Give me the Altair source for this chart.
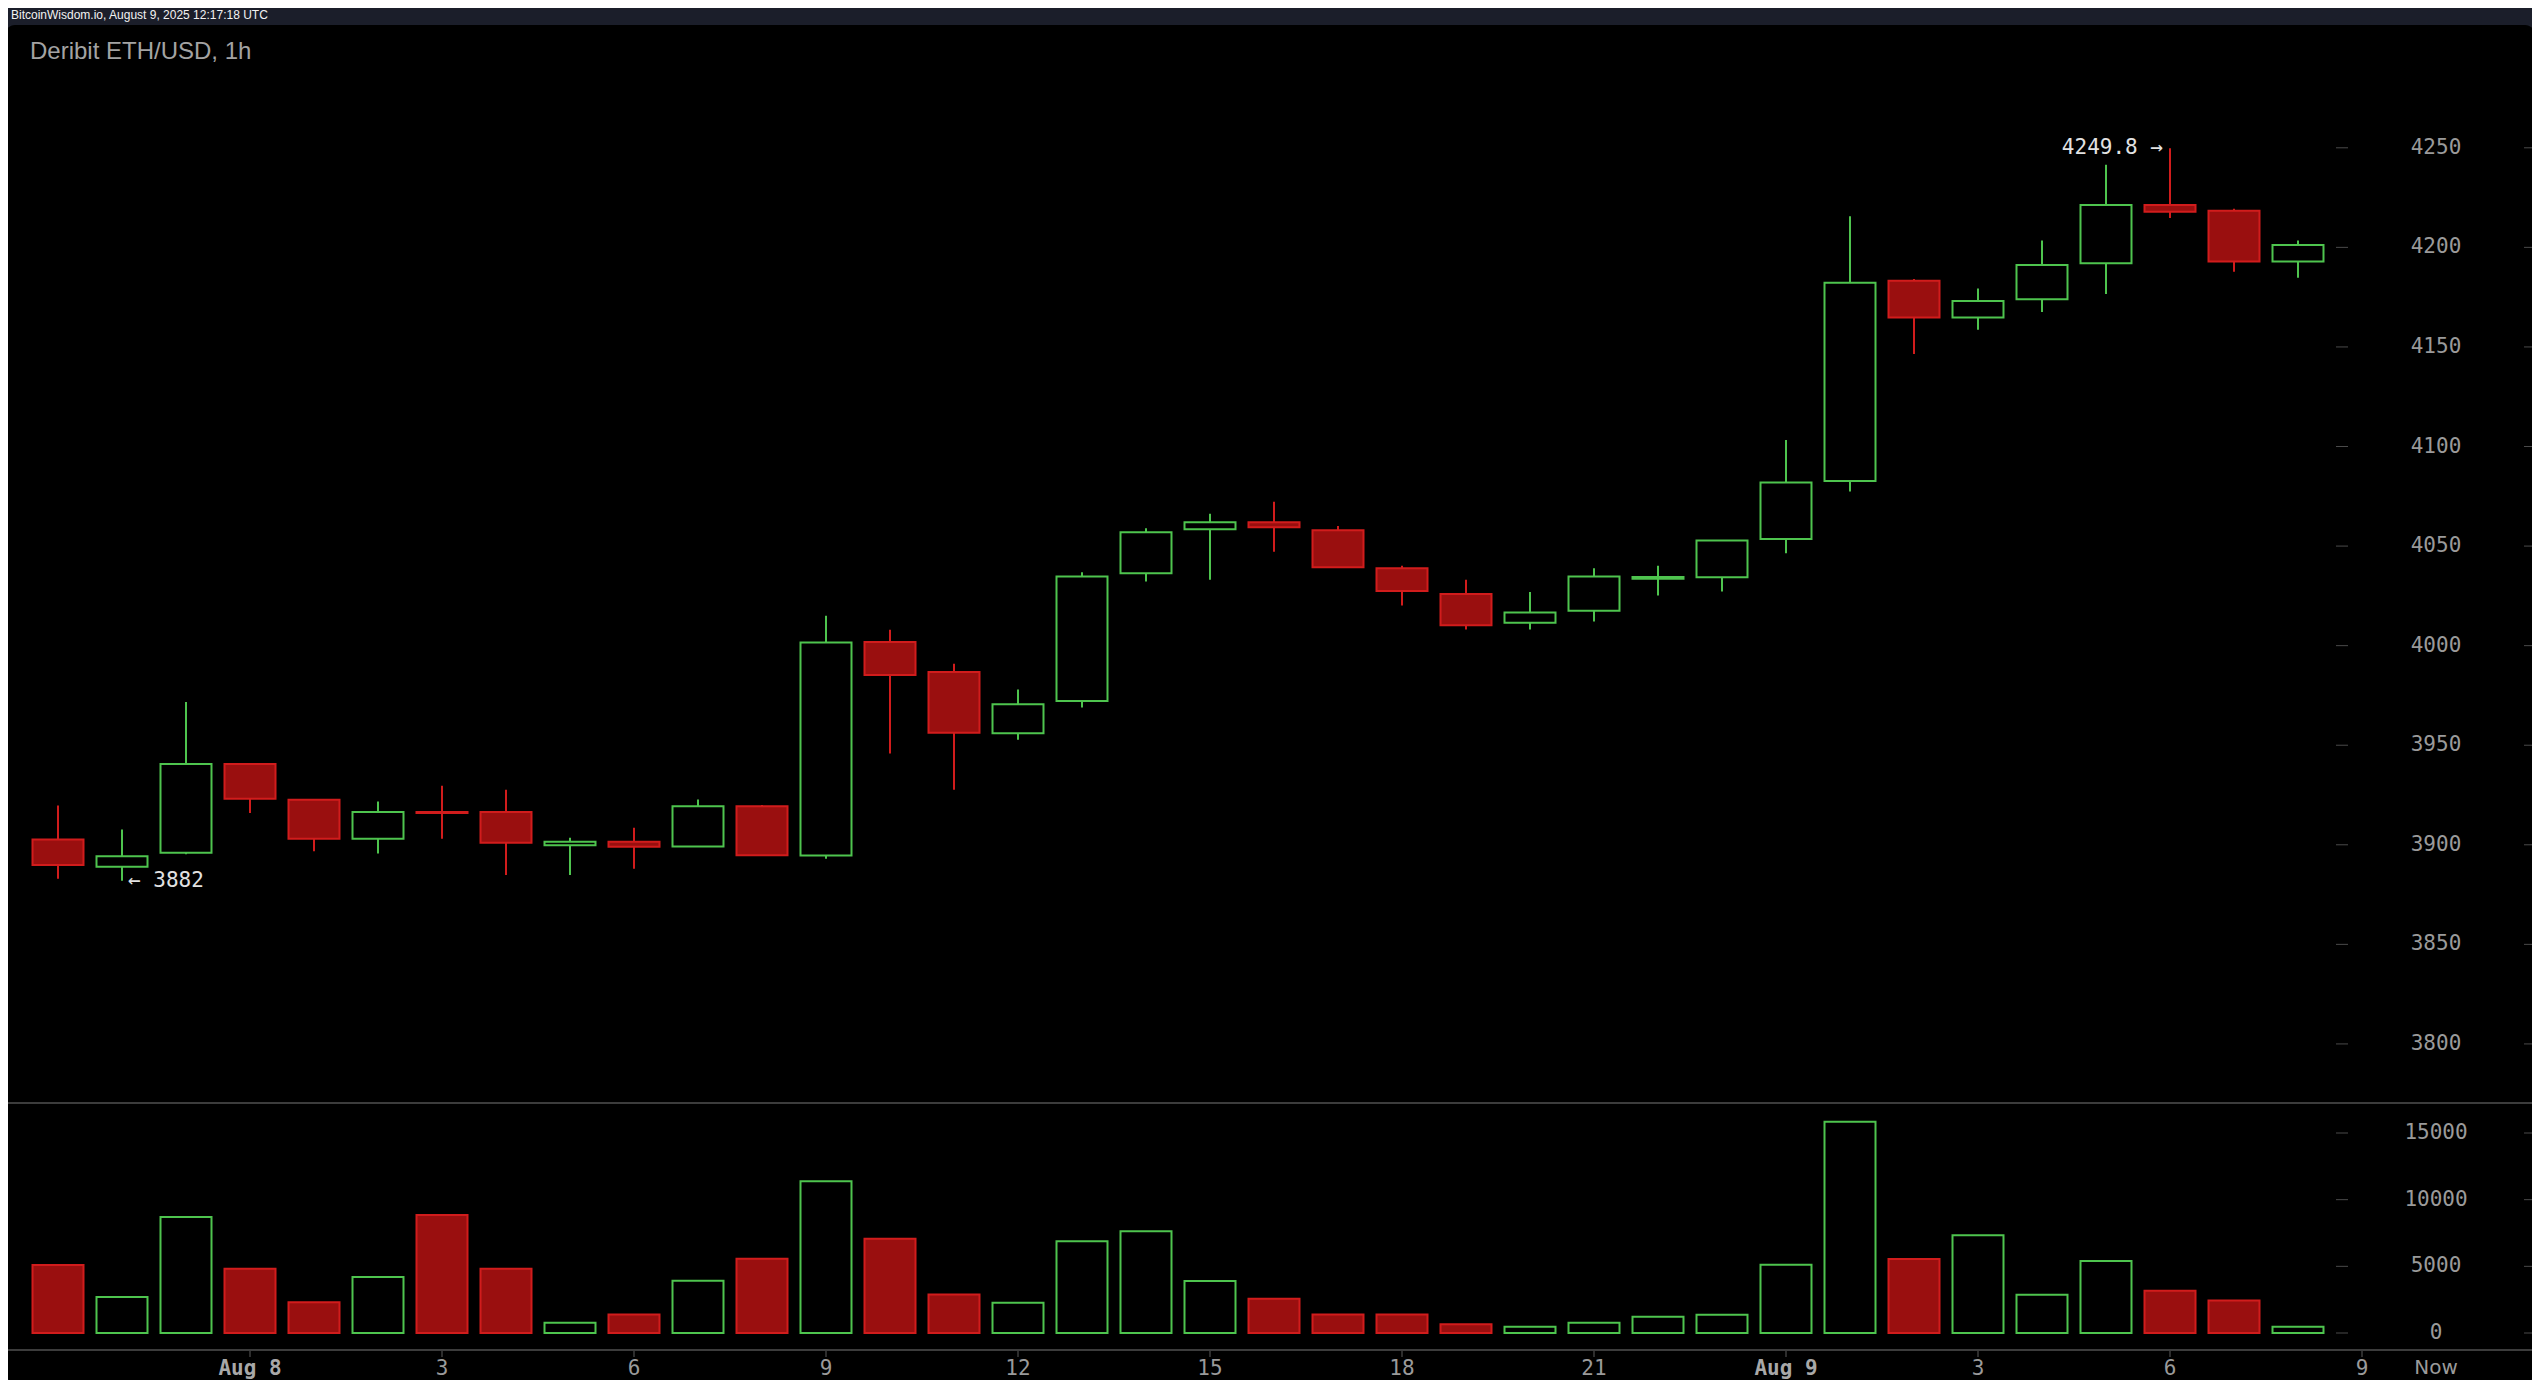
import altair as alt
import pandas as pd

# ---------------- data ----------------
candle_index = list(range(36))
opens = [3902.7, 3889.0, 3896.0, 3940.6, 3922.6, 3903.0, 3916.5, 3916.5, 3899.8, 3901.5,
         3899.2, 3919.4, 3894.6, 4001.8, 3986.8, 3956.0, 3972.2, 4036.4, 4058.5, 4062.0,
         4058.0, 4038.9, 4025.9, 4011.5, 4017.5, 4033.6, 4034.4, 4053.6, 4082.7, 4183.3,
         4164.8, 4174.0, 4192.0, 4221.3, 4218.4, 4192.9]
highs = [3919.7, 3907.7, 3971.7, 3941.0, 3923.0, 3921.7, 3929.7, 3927.7, 3903.5, 3908.5,
         3922.7, 3920.0, 4015.0, 4008.0, 3990.9, 3978.0, 4036.9, 4059.0, 4066.2, 4072.2,
         4060.1, 4040.1, 4033.1, 4026.9, 4038.9, 4040.1, 4052.8, 4103.3, 4215.6, 4184.1,
         4179.3, 4203.4, 4241.5, 4249.8, 4219.4, 4203.4]
lows = [3883.0, 3882.0, 3895.2, 3916.0, 3896.8, 3895.6, 3903.0, 3884.8, 3884.8, 3888.0,
        3899.0, 3894.5, 3893.0, 3945.8, 3927.7, 3952.7, 3969.0, 4032.2, 4033.1, 4047.2,
        4039.0, 4020.2, 4008.1, 4008.1, 4012.1, 4025.2, 4027.2, 4046.4, 4077.4, 4146.4,
        4158.6, 4167.6, 4176.6, 4214.7, 4187.7, 4184.7]
closes = [3889.8, 3894.3, 3940.6, 3923.1, 3903.0, 3916.5, 3916.0, 3901.0, 3901.5, 3899.0,
          3919.4, 3894.8, 4001.6, 3985.3, 3956.2, 3970.6, 4034.7, 4057.0, 4062.0, 4059.5,
          4039.4, 4027.4, 4010.3, 4016.7, 4034.7, 4034.5, 4052.8, 4081.9, 4182.2, 4164.8,
          4173.1, 4191.2, 4221.3, 4217.9, 4192.9, 4201.2]
volumes = [5100, 2700, 8700, 4820, 2300, 4200, 8850, 4820, 770, 1380,
           3920, 5570, 11390, 7060, 2880, 2260, 6890, 7630, 3900, 2560,
           1390, 1390, 650, 470, 770, 1220, 1370, 5120, 15840, 5550,
           7340, 2860, 5400, 3160, 2440, 470]

price_ticks = [3800, 3850, 3900, 3950, 4000, 4050, 4100, 4150, 4200, 4250]
volume_ticks = [0, 5000, 10000, 15000]
time_tick_pos = [3, 6, 9, 12, 15, 18, 21, 24, 27, 30, 33, 36]
time_tick_labels = ["Aug 8", "3", "6", "9", "12", "15", "18", "21", "Aug 9", "3", "6", "9"]
time_tick_bold = [True, False, False, False, False, False, False, False, True, False, False, False]

low_note = {"i": 1, "p": 3882, "t": "\u2190 3882"}
high_note = {"i": 33, "p": 4249.8, "t": "4249.8 \u2192"}

title_text = "Deribit ETH/USD, 1h"
header_text = "BitcoinWisdom.io, August 9, 2025 12:17:18 UTC"

# ---------------- tables ----------------
df = pd.DataFrame({"i": candle_index, "open": opens, "high": highs, "low": lows,
                   "close": closes, "volume": volumes})
df["dir"] = ["up" if c >= o else "down" for o, c in zip(opens, closes)]
df["top"] = [max(o, c) for o, c in zip(opens, closes)]
df["bot"] = [min(o, c) for o, c in zip(opens, closes)]

ptick_df = pd.DataFrame({"p": price_ticks, "lab": [str(v) for v in price_ticks]})
vtick_df = pd.DataFrame({"v": volume_ticks, "lab": [str(v) for v in volume_ticks]})
ttick_df = pd.DataFrame({"i": time_tick_pos, "lab": time_tick_labels, "bold": time_tick_bold})
one = pd.DataFrame({"k": [0]})

# ---------------- geometry / style ----------------
W, H = 2524, 1372
STEP = 64.0
X0 = 50.0
x_scale = alt.Scale(domain=[-X0 / STEP, (W - X0) / STEP], nice=False, zero=False)
PPX = 200 / 15000.0  # volume px per unit
price_scale = alt.Scale(domain=[4250 - (H - 139.8) / 1.9914, 4250 + 139.8 / 1.9914], nice=False, zero=False)
vol_scale = alt.Scale(domain=[-(H - 1325) / PPX, 1325 / PPX], nice=False, zero=False)

GREEN = "#4ec44e"
RED_STROKE = "#d11c1c"
RED_FILL = "#9a0f0f"
BG = "#1b1e2a"
MONO = "DejaVu Sans Mono"
HALF = 25.5 / STEP

stroke_scale = alt.Scale(domain=["up", "down"], range=[GREEN, RED_STROKE])
fill_scale = alt.Scale(domain=["up", "down"], range=["#000000", RED_FILL])

X = alt.X("i:Q", scale=x_scale, axis=None)

panel = alt.Chart(one).mark_rect(color="#000000", cornerRadius=10).encode(
    x=alt.value(-3), x2=alt.value(2527), y=alt.value(17), y2=alt.value(1374))

header = alt.Chart(one).mark_text(
    text=header_text, align="left", baseline="middle", font="Liberation Sans",
    fontSize=12, color="#f2f2f2").encode(x=alt.value(3), y=alt.value(7))

title = alt.Chart(one).mark_text(
    text=title_text, align="left", baseline="middle", font="Liberation Sans",
    fontSize=24, color="#a3a3a3").encode(x=alt.value(22), y=alt.value(44))

sep = alt.Chart(one).mark_rule(color="#3c3c3c", strokeWidth=2).encode(
    x=alt.value(-3), x2=alt.value(2527), y=alt.value(1095))
bottom_line = alt.Chart(one).mark_rule(color="#3c3c3c", strokeWidth=2).encode(
    x=alt.value(-3), x2=alt.value(2527), y=alt.value(1342))

# price axis
PY = alt.Y("p:Q", scale=price_scale, axis=None)
p_dash_l = alt.Chart(ptick_df).mark_rule(color="#4a4a4a", strokeWidth=1).encode(
    y=PY, x=alt.value(2328), x2=alt.value(2340))
p_dash_r = alt.Chart(ptick_df).mark_rule(color="#4a4a4a", strokeWidth=1).encode(
    y=PY, x=alt.value(2516), x2=alt.value(2528))
p_labels = alt.Chart(ptick_df).mark_text(
    align="center", baseline="middle", font=MONO, fontSize=21, color="#9a9a9a").encode(
    y=PY, x=alt.value(2428), text="lab:N")

# volume axis
VY = alt.Y("v:Q", scale=vol_scale, axis=None)
v_dash_l = alt.Chart(vtick_df).mark_rule(color="#4a4a4a", strokeWidth=1).encode(
    y=VY, x=alt.value(2328), x2=alt.value(2340))
v_dash_r = alt.Chart(vtick_df).mark_rule(color="#4a4a4a", strokeWidth=1).encode(
    y=VY, x=alt.value(2516), x2=alt.value(2528))
v_labels = alt.Chart(vtick_df).mark_text(
    align="center", baseline="middle", font=MONO, fontSize=21, color="#9a9a9a").encode(
    y=VY, x=alt.value(2428), text="lab:N")

# time axis
t_ticks = alt.Chart(ttick_df).mark_rule(color="#5a5a5a", strokeWidth=1).encode(
    x=X, y=alt.value(1343), y2=alt.value(1349))
t_labels_norm = alt.Chart(ttick_df).transform_filter("!datum.bold").mark_text(
    align="center", baseline="middle", font=MONO, fontSize=21, color="#9a9a9a").encode(
    x=X, y=alt.value(1361), text="lab:N")
t_labels_bold = alt.Chart(ttick_df).transform_filter("datum.bold").mark_text(
    align="center", baseline="middle", font=MONO, fontSize=21, fontWeight="bold",
    color="#a8a8a8").encode(x=X, y=alt.value(1361), text="lab:N")
now_label = alt.Chart(one).mark_text(
    text="Now", align="center", baseline="middle", font="DejaVu Sans", fontSize=20,
    color="#9a9a9a").encode(x=alt.value(2428), y=alt.value(1360))

# candles
base = alt.Chart(df).transform_calculate(xl=f"datum.i - {HALF}", xr=f"datum.i + {HALF}")
wicks = base.mark_rule(strokeWidth=2).encode(
    x=X,
    y=alt.Y("low:Q", scale=price_scale, axis=None),
    y2="high:Q",
    stroke=alt.Stroke("dir:N", scale=stroke_scale, legend=None))
bodies = base.mark_rect(strokeWidth=2).encode(
    x=alt.X("xl:Q", scale=x_scale, axis=None), x2="xr:Q",
    y=alt.Y("top:Q", scale=price_scale, axis=None), y2="bot:Q",
    fill=alt.Fill("dir:N", scale=fill_scale, legend=None),
    stroke=alt.Stroke("dir:N", scale=stroke_scale, legend=None))
vol_bars = base.mark_rect(strokeWidth=2).encode(
    x=alt.X("xl:Q", scale=x_scale, axis=None), x2="xr:Q",
    y=alt.Y("volume:Q", scale=vol_scale, axis=None), y2=alt.datum(0),
    fill=alt.Fill("dir:N", scale=fill_scale, legend=None),
    stroke=alt.Stroke("dir:N", scale=stroke_scale, legend=None))

# annotations
low_txt = alt.Chart(pd.DataFrame([low_note])).mark_text(
    align="left", baseline="middle", dx=6, font=MONO, fontSize=21, color="#e2e2e2").encode(
    x=X, y=PY, text="t:N")
high_txt = alt.Chart(pd.DataFrame([high_note])).mark_text(
    align="right", baseline="middle", dx=-7, font=MONO, fontSize=21, color="#e2e2e2").encode(
    x=X, y=PY, text="t:N")

chart = alt.layer(
    panel, header, title, sep, bottom_line,
    p_dash_l, p_dash_r, p_labels, v_dash_l, v_dash_r, v_labels,
    t_ticks, t_labels_norm, t_labels_bold, now_label,
    wicks, bodies, vol_bars, low_txt, high_txt,
).resolve_scale(y="independent").properties(
    width=W, height=H, padding=0, background=BG,
    autosize=alt.AutoSizeParams(type="none"),
).configure_view(stroke=None)

chart.save("out.html", embed_options={"renderer": "svg", "actions": False})
